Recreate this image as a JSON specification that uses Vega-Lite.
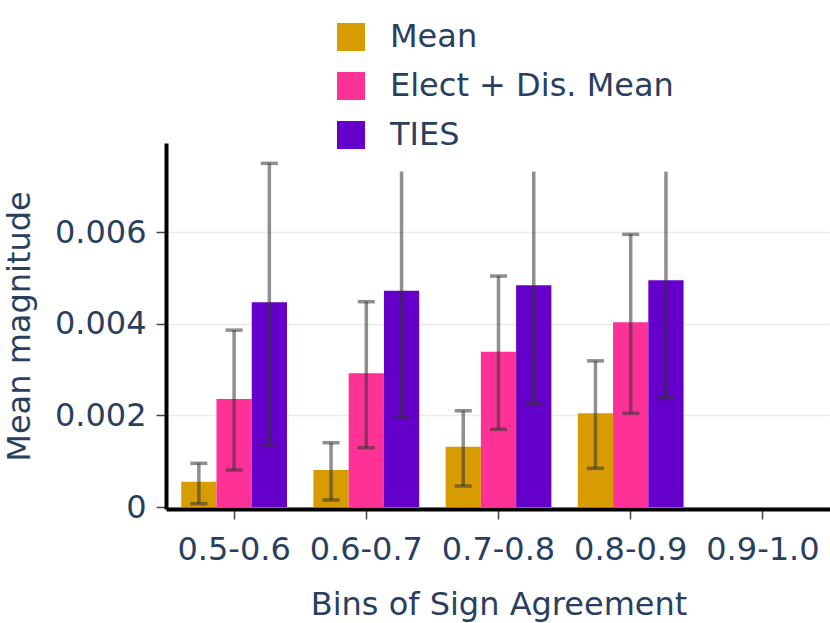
{
  "$schema": "https://vega.github.io/schema/vega-lite/v6.json",
  "width": 661,
  "height": 362,
  "autosize": "none",
  "padding": {"left": 168, "top": 145, "right": 1, "bottom": 116},
  "background": "white",
  "config": {
    "font": "DejaVu Sans",
    "view": {"stroke": null},
    "axis": {
      "labelFont": "DejaVu Sans",
      "titleFont": "DejaVu Sans",
      "labelFontSize": 32,
      "titleFontSize": 32,
      "labelColor": "#2a3f5f",
      "titleColor": "#2a3f5f",
      "titleFontWeight": "normal",
      "domainColor": "black",
      "domainWidth": 4,
      "tickColor": "#444444",
      "tickWidth": 1.5,
      "tickSize": 10
    }
  },
  "data": {
    "values": [
      {"bin": "0.5-0.6", "method": "Mean", "value": 0.000552, "lo": 0.000072, "hi": 0.000953, "clamped": false},
      {"bin": "0.5-0.6", "method": "Elect + Dis. Mean", "value": 0.002357, "lo": 0.000807, "hi": 0.00386, "clamped": false},
      {"bin": "0.5-0.6", "method": "TIES", "value": 0.004467, "lo": 0.00136, "hi": 0.0075, "clamped": false},
      {"bin": "0.6-0.7", "method": "Mean", "value": 0.000807, "lo": 0.000153, "hi": 0.001403, "clamped": false},
      {"bin": "0.6-0.7", "method": "Elect + Dis. Mean", "value": 0.002917, "lo": 0.001294, "hi": 0.00448, "clamped": false},
      {"bin": "0.6-0.7", "method": "TIES", "value": 0.00472, "lo": 0.00197, "hi": 0.00732, "clamped": true},
      {"bin": "0.7-0.8", "method": "Mean", "value": 0.001316, "lo": 0.000458, "hi": 0.0021, "clamped": false},
      {"bin": "0.7-0.8", "method": "Elect + Dis. Mean", "value": 0.00339, "lo": 0.001695, "hi": 0.00504, "clamped": false},
      {"bin": "0.7-0.8", "method": "TIES", "value": 0.00484, "lo": 0.00226, "hi": 0.00732, "clamped": true},
      {"bin": "0.8-0.9", "method": "Mean", "value": 0.002044, "lo": 0.000844, "hi": 0.00319, "clamped": false},
      {"bin": "0.8-0.9", "method": "Elect + Dis. Mean", "value": 0.00403, "lo": 0.002044, "hi": 0.00595, "clamped": false},
      {"bin": "0.8-0.9", "method": "TIES", "value": 0.00495, "lo": 0.00239, "hi": 0.00732, "clamped": true}
    ]
  },
  "encoding": {
    "x": {
      "field": "bin",
      "type": "nominal",
      "scale": {"domain": ["0.5-0.6", "0.6-0.7", "0.7-0.8", "0.8-0.9", "0.9-1.0"], "paddingInner": 0.2, "paddingOuter": 0.1},
      "axis": {"title": "Bins of Sign Agreement", "labelAngle": 0, "offset": 2, "labelPadding": 15, "titlePadding": 24, "domainCap": "square"}
    },
    "xOffset": {
      "field": "method",
      "type": "nominal",
      "scale": {"domain": ["Mean", "Elect + Dis. Mean", "TIES"], "paddingInner": 0, "paddingOuter": 0}
    }
  },
  "layer": [
    {
      "mark": {"type": "bar"},
      "encoding": {
        "y": {
          "field": "value",
          "type": "quantitative",
          "scale": {"domain": [0, 0.0079], "nice": false},
          "axis": {
            "title": "Mean magnitude",
            "values": [0, 0.002, 0.004, 0.006],
            "format": ".3~f",
            "grid": true,
            "gridColor": "#ebebeb",
            "gridWidth": 1.5,
            "offset": 2,
            "labelPadding": 10,
            "titlePadding": 18,
            "domainCap": "square"
          }
        },
        "color": {
          "field": "method",
          "type": "nominal",
          "scale": {"domain": ["Mean", "Elect + Dis. Mean", "TIES"], "range": ["#D69C00", "#FE3197", "#6500CB"]},
          "legend": {
            "title": null,
            "orient": "none",
            "legendX": 167,
            "legendY": -124,
            "padding": 0,
            "symbolType": "square",
            "symbolSize": 784,
            "symbolStrokeWidth": 0,
            "symbolOpacity": 1,
            "labelFontSize": 32,
            "labelFont": "DejaVu Sans",
            "labelColor": "#2a3f5f",
            "labelOffset": 23,
            "labelLimit": 0,
            "rowPadding": 17
          }
        }
      }
    },
    {
      "mark": {"type": "rule", "color": "#333333", "opacity": 0.55, "strokeWidth": 3.5},
      "encoding": {
        "y": {"field": "lo", "type": "quantitative"},
        "y2": {"field": "hi"}
      }
    },
    {
      "mark": {"type": "tick", "color": "#333333", "opacity": 0.55, "thickness": 3.5, "size": 17},
      "encoding": {
        "y": {"field": "lo", "type": "quantitative"}
      }
    },
    {
      "transform": [{"filter": "!datum.clamped"}],
      "mark": {"type": "tick", "color": "#333333", "opacity": 0.55, "thickness": 3.5, "size": 17},
      "encoding": {
        "y": {"field": "hi", "type": "quantitative"}
      }
    }
  ]
}
